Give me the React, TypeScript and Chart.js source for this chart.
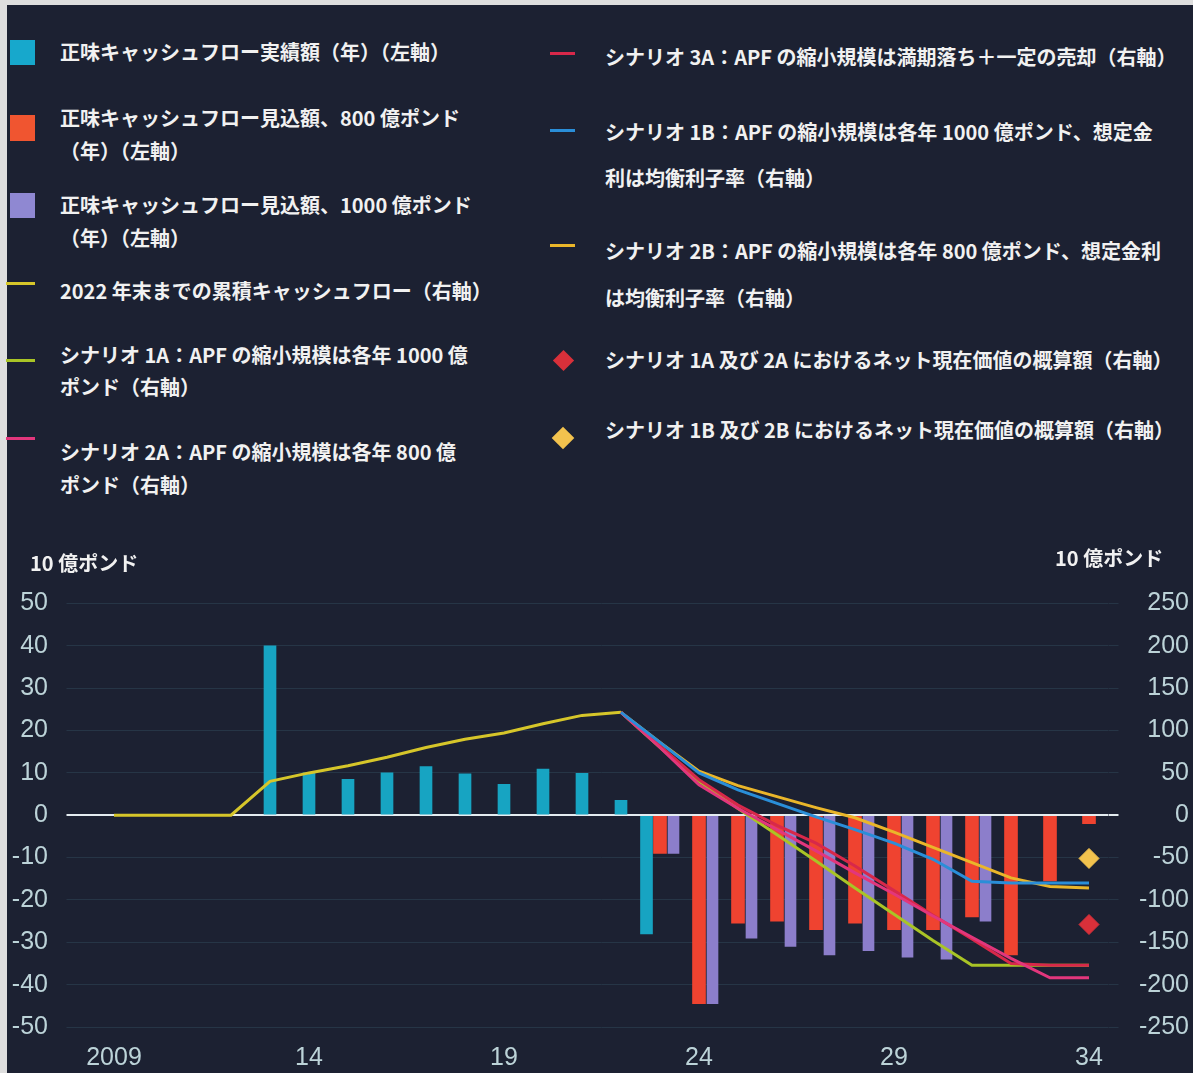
import { useEffect, useRef } from 'react';
import { Chart, registerables } from 'chart.js';

Chart.register(...registerables);

// ---------- data ----------
const categories = [
  '2009', '2010', '2011', '2012', '2013', '2014', '2015', '2016', '2017', '2018', '2019', '2020', '2021',
  '2022', '2023', '2024', '2025', '2026', '2027', '2028', '2029', '2030', '2031', '2032', '2033', '2034',
];
const xTickLabels = [
  '2009', '', '', '', '', '14', '', '', '', '', '19', '', '', '', '', '24', '', '', '', '', '29', '', '', '', '', '34',
];

// left axis, 10億ポンド per year
const actualFlow = [null, null, null, null, 40, 10, 8.5, 10, 11.5, 9.8, 7.3, 10.9, 9.9, 3.5, -28,
  null, null, null, null, null, null, null, null, null, null, null];
const projected800 = [null, null, null, null, null, null, null, null, null, null, null, null, null, null,
  -9, -44.5, -25.5, -25, -27, -25.5, -27, -27, -24, -33, -15.5, -2];
const projected1000 = [null, null, null, null, null, null, null, null, null, null, null, null, null, null,
  -9, -44.5, -29, -31, -33, -32, -33.5, -34, -25, null, null, null];

// right axis, 10億ポンド cumulative
const cumulative2022 = [0, 0, 0, 0, 40, 50, 58.5, 68.5, 80, 89.8, 97.1, 108, 117.9, 121.5,
  null, null, null, null, null, null, null, null, null, null, null, null];
const pre = [null, null, null, null, null, null, null, null, null, null, null, null, null];
const scenario1A = [...pre, 121.5, 80, 40, 8, -23, -54, -86, -117, -148, -177, -177, -177, -177];
const scenario2A = [...pre, 121.5, 80, 36, 8, -17, -42, -68, -93, -119, -144, -169, -192, -192];
const scenario3A = [...pre, 121.5, 82, 42, 12, -12, -33, -60, -89, -118, -146, -175, -177, -177];
const scenario1B = [...pre, 121.5, 86, 50, 30, 14, -2, -17, -33, -52, -78, -80, -80, -80];
const scenario2B = [...pre, 121.5, 86, 52, 35, 22, 9, -3, -20, -38, -56, -74, -84, -86];
const npv1A2A = [...pre, null, null, null, null, null, null, null, null, null, null, null, null, -129];
const npv1B2B = [...pre, null, null, null, null, null, null, null, null, null, null, null, null, -51];

const leftAxisTitle = '10 億ポンド';
const rightAxisTitle = '10 億ポンド';

const legendLeft = [
  ['正味キャッシュフロー実績額（年）（左軸）'],
  ['正味キャッシュフロー見込額、800 億ポンド', '（年）（左軸）'],
  ['正味キャッシュフロー見込額、1000 億ポンド', '（年）（左軸）'],
  ['2022 年末までの累積キャッシュフロー（右軸）'],
  ['シナリオ 1A：APF の縮小規模は各年 1000 億', 'ポンド（右軸）'],
  ['シナリオ 2A：APF の縮小規模は各年 800 億', 'ポンド（右軸）'],
];
const legendRight = [
  ['シナリオ 3A：APF の縮小規模は満期落ち＋一定の売却（右軸）'],
  ['シナリオ 1B：APF の縮小規模は各年 1000 億ポンド、想定金', '利は均衡利子率（右軸）'],
  ['シナリオ 2B：APF の縮小規模は各年 800 億ポンド、想定金利', 'は均衡利子率（右軸）'],
  ['シナリオ 1A 及び 2A におけるネット現在価値の概算額（右軸）'],
  ['シナリオ 1B 及び 2B におけるネット現在価値の概算額（右軸）'],
];

// ---------- styles ----------
const C = {
  bg: '#1c2132',
  cyan: '#17a4c2',
  orange: '#ef4330',
  purple: '#8c7ecb',
  cum: '#d6c62a',
  s1A: '#a9c426',
  s2A: '#e2367c',
  s3A: '#d8284a',
  s1B: '#2a8ed8',
  s2B: '#eab62a',
  dRed: '#d8303a',
  dYel: '#f2c24e',
  tick: '#bcd3d8',
  grid: '#263546',
  zero: '#e4ecf0',
  text: '#f1f1f1',
};

const FONT_JP = '"Noto Sans CJK JP", "Noto Sans CJK SC", sans-serif';

function LegendText({ x, y, lh, lines }: { x: number; y: number; lh: number; lines: string[] }) {
  return (
    <div
      style={{
        position: 'absolute',
        left: x,
        top: y - lh / 2,
        lineHeight: lh + 'px',
        fontSize: 20,
        fontWeight: 700,
        color: C.text,
        fontFamily: FONT_JP,
        whiteSpace: 'nowrap',
      }}
    >
      {lines.map((l, i) => (
        <div key={i}>{l}</div>
      ))}
    </div>
  );
}

function Square({ x, y, w, h, color }: { x: number; y: number; w: number; h: number; color: string }) {
  return <div style={{ position: 'absolute', left: x, top: y, width: w, height: h, background: color }} />;
}
function LineMark({ x, y, w, color }: { x: number; y: number; w: number; color: string }) {
  return <div style={{ position: 'absolute', left: x, top: y - 1.5, width: w, height: 3, background: color }} />;
}
function Diamond({ cx, cy, s, color }: { cx: number; cy: number; s: number; color: string }) {
  return (
    <div
      style={{
        position: 'absolute',
        left: cx - s / 2,
        top: cy - s / 2,
        width: s,
        height: s,
        background: color,
        transform: 'rotate(45deg)',
      }}
    />
  );
}

export default function App() {
  const ref = useRef<HTMLCanvasElement>(null);

  useEffect(() => {
    const canvas = ref.current;
    if (!canvas) return;
    const gridColor = (ctx: any) => (ctx.tick && ctx.tick.value === 0 ? C.zero : C.grid);
    const gridWidth = (ctx: any) => (ctx.tick && ctx.tick.value === 0 ? 2 : 1);
    const line = (label: string, data: any[], color: string, order: number) => ({
      type: 'line' as const,
      label,
      data,
      borderColor: color,
      backgroundColor: color,
      borderWidth: 3,
      pointRadius: 0,
      tension: 0,
      yAxisID: 'y1',
      order,
    });
    const bar = (label: string, data: any[], color: string, maxW: number, skipNull: boolean) => ({
      type: 'bar' as const,
      label,
      data,
      backgroundColor: color,
      barThickness: 13.5,
      maxBarThickness: maxW,
      skipNull,
      yAxisID: 'y',
      order: 10,
    });
    const chart = new Chart(canvas, {
      type: 'bar',
      data: {
        labels: categories,
        datasets: [
          bar(legendLeft[0][0], actualFlow, C.cyan, 12, true),
          bar(legendLeft[1][0], projected800, C.orange, 13, false),
          bar(legendLeft[2][0], projected1000, C.purple, 11, false),
          line(legendLeft[3][0], cumulative2022, C.cum, 7),
          line(legendLeft[4][0], scenario1A, C.s1A, 5),
          line(legendLeft[5][0], scenario2A, C.s2A, 3),
          line(legendRight[0][0], scenario3A, C.s3A, 4),
          line(legendRight[1][0], scenario1B, C.s1B, 2),
          line(legendRight[2][0], scenario2B, C.s2B, 6),
          {
            type: 'line' as const,
            label: legendRight[3][0],
            data: npv1A2A,
            showLine: false,
            pointStyle: 'rectRot',
            pointRadius: 10,
            backgroundColor: C.dRed,
            borderColor: C.dRed,
            yAxisID: 'y1',
            order: 0,
          },
          {
            type: 'line' as const,
            label: legendRight[4][0],
            data: npv1B2B,
            showLine: false,
            pointStyle: 'rectRot',
            pointRadius: 10,
            backgroundColor: C.dYel,
            borderColor: C.dYel,
            yAxisID: 'y1',
            order: 0,
          },
        ] as any,
      },
      options: {
        animation: false,
        responsive: false,
        maintainAspectRatio: false,
        layout: { padding: { top: 27, right: 4, left: 0, bottom: 0 } },
        plugins: { legend: { display: false }, tooltip: { enabled: false } },
        scales: {
          x: {
            stacked: false,
            offset: true,
            grid: { display: false, drawTicks: false },
            border: { display: false },
            ticks: {
              autoSkip: false,
              maxRotation: 0,
              minRotation: 0,
              padding: 16,
              color: C.tick,
              font: { family: '"Liberation Sans", Arial, sans-serif', size: 25 },
              callback: (_v: any, i: number) => xTickLabels[i],
            },
            afterFit: (s: any) => {
              s.height = 46;
            },
          },
          y: {
            position: 'left',
            stacked: false,
            min: -50,
            max: 50,
            border: { display: false },
            grid: { color: gridColor, lineWidth: gridWidth, tickLength: 28, drawTicks: true },
            ticks: {
              stepSize: 10,
              padding: 18.5,
              color: C.tick,
              font: { family: '"Liberation Sans", Arial, sans-serif', size: 25 },
            },
            afterFit: (s: any) => {
              s.width = 94.5;
            },
          },
          y1: {
            position: 'right',
            stacked: false,
            min: -250,
            max: 250,
            border: { display: false },
            grid: { color: gridColor, lineWidth: gridWidth, tickLength: 10, drawTicks: true, drawOnChartArea: false },
            ticks: {
              stepSize: 50,
              crossAlign: 'far',
              color: C.tick,
              font: { family: '"Liberation Sans", Arial, sans-serif', size: 25 },
            },
            afterFit: (s: any) => {
              s.width = 80.5;
            },
          },
        },
      } as any,
    });
    return () => chart.destroy();
  }, []);

  const leftY = [[52], [117, 150], [204, 237], [291], [355, 387], [451, 484]];
  const rightY = [[57], [132, 178], [250, 297], [360], [430]];

  return (
    <div style={{ position: 'absolute', left: 0, top: 0, width: 1193, height: 1073, background: '#dedede', overflow: 'hidden' }}>
      <div style={{ position: 'absolute', left: 7, top: 5, width: 1186, height: 1068, background: C.bg }} />
      <canvas
        ref={ref}
        width={1193}
        height={503}
        style={{ position: 'absolute', left: 0, top: 570, width: 1193, height: 503 }}
      />
      {/* legend markers */}
      <Square x={10} y={40} w={25} h={25} color="#17a8cc" />
      <Square x={10} y={115} w={25} h={26} color="#f05530" />
      <Square x={10} y={193} w={25} h={25} color="#8f88d2" />
      <LineMark x={6} y={283} w={29} color={C.cum} />
      <LineMark x={6} y={360} w={29} color={C.s1A} />
      <LineMark x={6} y={438} w={29} color={C.s2A} />
      <LineMark x={550} y={53} w={25} color={C.s3A} />
      <LineMark x={550} y={130} w={25} color={C.s1B} />
      <LineMark x={550} y={245} w={25} color={C.s2B} />
      <Diamond cx={563} cy={360} s={15} color={C.dRed} />
      <Diamond cx={563} cy={438} s={16} color={C.dYel} />
      {legendLeft.map((lines, i) => (
        <LegendText key={'l' + i} x={60} y={leftY[i][0]} lh={lines.length > 1 ? leftY[i][1] - leftY[i][0] : 32} lines={lines} />
      ))}
      {legendRight.map((lines, i) => (
        <LegendText key={'r' + i} x={605} y={rightY[i][0]} lh={lines.length > 1 ? rightY[i][1] - rightY[i][0] : 32} lines={lines} />
      ))}
      {/* axis unit titles */}
      <div style={{ position: 'absolute', left: 30, top: 548, fontSize: 20, fontWeight: 700, color: C.text, fontFamily: FONT_JP, lineHeight: '30px', whiteSpace: 'nowrap' }}>
        {leftAxisTitle}
      </div>
      <div style={{ position: 'absolute', left: 1055, top: 543, fontSize: 20, fontWeight: 700, color: C.text, fontFamily: FONT_JP, lineHeight: '30px', whiteSpace: 'nowrap' }}>
        {rightAxisTitle}
      </div>
    </div>
  );
}
